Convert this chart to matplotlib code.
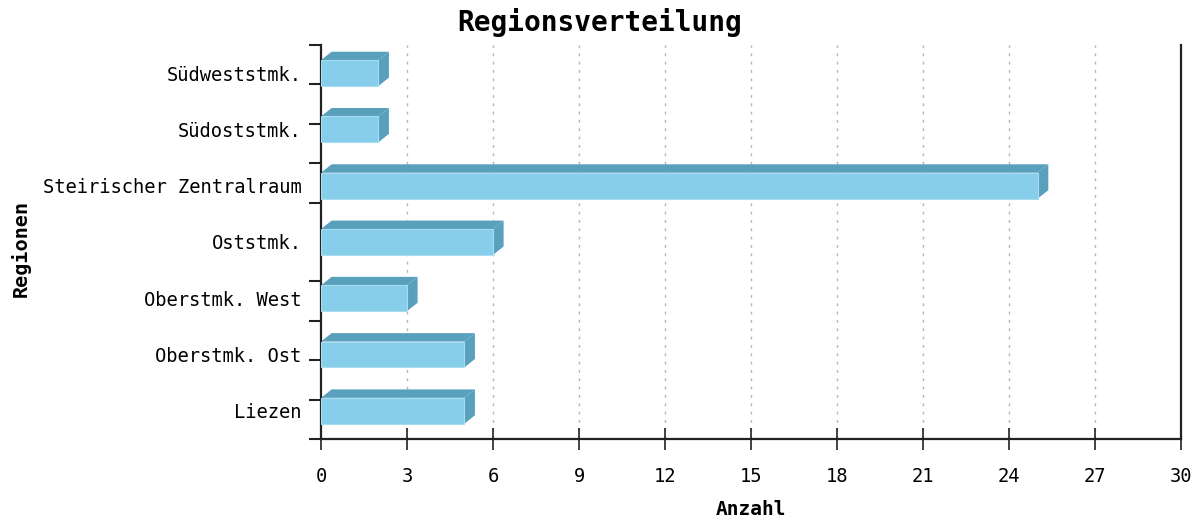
import matplotlib.pyplot as plt
from matplotlib.patches import Polygon
import numpy as np

# data (bottom to top)
regions = ["Liezen", "Oberstmk. Ost", "Oberstmk. West", "Oststmk.",
           "Steirischer Zentralraum", "Südoststmk.", "Südweststmk."]
counts = [5, 5, 3, 6, 25, 2, 2]
xticks = list(range(0, 31, 3))

front = '#87ceeb'
dark = '#59a0bd'
mono = 'DejaVu Sans Mono'

fig = plt.figure(figsize=(12, 5.17), dpi=100)
ax = fig.add_axes([0.2675, 0.151, 0.7167, 0.762])

ypos = np.arange(len(regions)) + 0.5
h = 0.46      # bar front height (category units)
dx = 0.37     # depth in x (data units)
dy = 0.15     # depth in y (category units)

# grid lines in background
for xv in xticks[1:-1]:
    ax.axvline(xv, color='#b5b5b5', linestyle=(0, (2, 4)), linewidth=1, zorder=0)

# 3d bars: front face + top + side
ax.barh(ypos, counts, height=h, color=front, edgecolor='#a8dcf0', linewidth=0.8, zorder=3)
for y, v in zip(ypos, counts):
    top = Polygon([(0, y + h / 2), (dx, y + h / 2 + dy), (v + dx, y + h / 2 + dy), (v, y + h / 2)],
                  closed=True, facecolor=dark, edgecolor='none', zorder=2)
    side = Polygon([(v, y - h / 2), (v, y + h / 2), (v + dx, y + h / 2 + dy), (v + dx, y - h / 2 + dy)],
                   closed=True, facecolor=dark, edgecolor='none', zorder=2)
    ax.add_patch(top)
    ax.add_patch(side)

ax.set_xlim(0, 30)
ax.set_ylim(0, len(regions))
ax.set_xticks(xticks)
ax.set_xticklabels([str(t) for t in xticks], fontfamily=mono, fontsize=13.5)
ax.set_yticks(ypos)
ax.set_yticklabels(regions, fontfamily=mono, fontsize=13.5)
ax.set_yticks(np.linspace(0, len(regions), 11), minor=True)

ax.tick_params(axis='y', which='major', length=0, pad=14)
ax.tick_params(axis='y', which='minor', direction='out', length=9, width=1.5, color='#222222')
ax.tick_params(axis='x', direction='inout', length=16, width=1.2, color='#222222', pad=12)

for s in ['left', 'bottom', 'right']:
    ax.spines[s].set_linewidth(1.6)
    ax.spines[s].set_color('#222222')
ax.spines['top'].set_visible(False)

fig.text(0.5, 0.957, "Regionsverteilung", ha='center', va='center',
         fontfamily=mono, fontsize=20, fontweight='bold')
ax.set_xlabel("Anzahl", fontfamily=mono, fontsize=14, fontweight='bold', labelpad=10)
fig.text(0.017, 0.52, "Regionen", ha='center', va='center', rotation=90,
         fontfamily=mono, fontsize=14.5, fontweight='bold')

plt.savefig("out.png", dpi=100)
